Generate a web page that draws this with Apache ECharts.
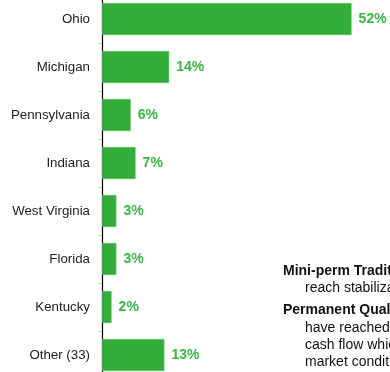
<!DOCTYPE html>
<html>
<head>
<meta charset="utf-8">
<script src="https://cdn.jsdelivr.net/npm/echarts@6/dist/echarts.min.js"></script>
<style>html,body{margin:0;padding:0;background:#fff;overflow:hidden;}#c{width:390px;height:384px;margin-top:-5px;}</style>
</head>
<body>
<div id="c"></div>
<script>
const categories = ['Ohio', 'Michigan', 'Pennsylvania', 'Indiana', 'West Virginia', 'Florida', 'Kentucky', 'Other (33)'];
const shares = [52, 14, 6, 7, 3, 3, 2, 13];
const noteLines = [
  { text: 'Mini-perm Traditional', bold: true },
  { text: 'reach stabilization', bold: false },
  { text: 'Permanent Quality', bold: true },
  { text: 'have reached', bold: false },
  { text: 'cash flow which', bold: false },
  { text: 'market conditions', bold: false }
];
const noteY = [276, 293, 315, 333, 350, 367];

const chart = echarts.init(document.getElementById('c'), null, { renderer: 'canvas' });
chart.setOption({
  animation: false,
  grid: { left: 102, right: 0, top: 0, bottom: 0, containLabel: false },
  xAxis: {
    type: 'value', min: 0, max: 60,
    show: false
  },
  yAxis: {
    type: 'category', data: categories, inverse: true,
    axisLine: { show: true, lineStyle: { color: '#000', width: 1.2 } },
    axisTick: { show: true, length: 4, lineStyle: { color: '#ccc' } },
    axisLabel: { color: '#222', fontSize: 13.3, fontFamily: 'Liberation Sans, Arial, sans-serif', margin: 12 },
    splitLine: { show: false }
  },
  series: [{
    type: 'bar',
    data: shares,
    barCategoryGap: '33%',
    itemStyle: { color: '#32AD38', borderColor: '#6cc56f', borderWidth: 0.6 },
    label: {
      show: true, position: 'right', distance: 7,
      formatter: p => p.value + '%',
      color: '#3DB446', fontWeight: 'bold', fontSize: 14,
      fontFamily: 'Liberation Sans, Arial, sans-serif'
    }
  }],
  graphic: noteLines.map((l, i) => ({
    type: 'text',
    x: l.bold ? 283 : 305,
    y: noteY[i],
    style: {
      text: l.text,
      fill: '#111',
      font: (l.bold ? 'bold ' : '') + '14px Liberation Sans, Arial, sans-serif',
      verticalAlign: 'middle',
      align: 'left'
    }
  }))
});
</script>
</body>
</html>
